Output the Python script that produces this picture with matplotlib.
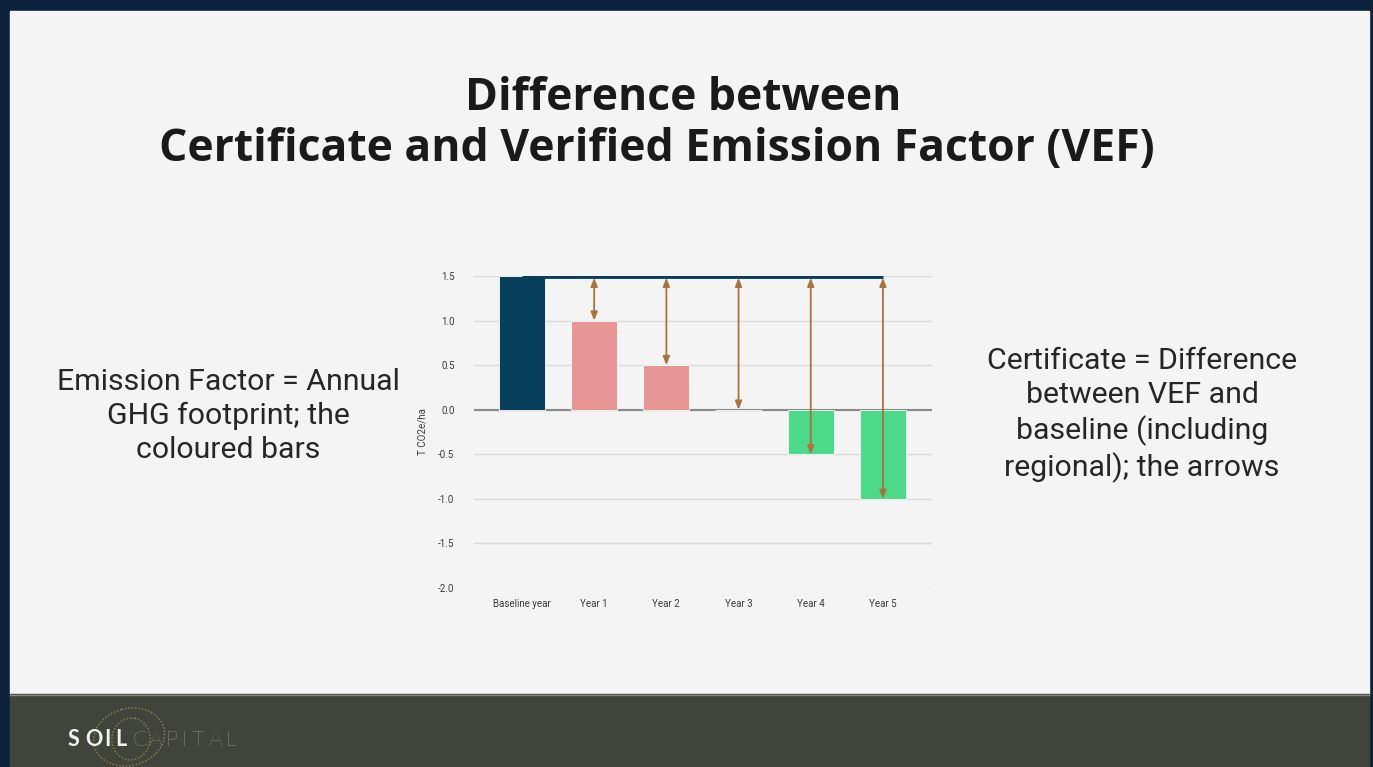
import numpy as np
import matplotlib.pyplot as plt
from matplotlib.patches import Rectangle, Ellipse

plt.rcParams['font.family'] = ['Roboto', 'DejaVu Sans']

categories = ['Baseline year', 'Year 1', 'Year 2', 'Year 3', 'Year 4', 'Year 5']
emission = [1.5, 1.0, 0.5, 0.0, -0.5, -1.0]
baseline = 1.5
yticks = [-2.0, -1.5, -1.0, -0.5, 0.0, 0.5, 1.0, 1.5]

NAVY = '#073f5c'
PINK = '#e89596'
GREEN = '#4cd98a'
ARROW = '#a8733f'

W, H = 1373, 767
fig = plt.figure(figsize=(W / 100, H / 100), dpi=100)
fig.patch.set_facecolor('#0c223c')

# slide background and footer
bg = fig.add_axes([0, 0, 1, 1])
bg.set_xlim(0, W)
bg.set_ylim(H, 0)
bg.axis('off')
bg.add_patch(Rectangle((10, 11), 1359, 683, color='#f4f4f4', zorder=0))
bg.add_patch(Rectangle((10, 694), 1359, 73, color='#40443a', zorder=0))
bg.plot([10, 1369], [694.5, 694.5], color='#8a8c84', lw=1.0, zorder=1)

bg.text(683, 99, 'Difference between', ha='center', va='center',
        fontsize=32, fontweight='bold', family='Open Sans', color='#1a1a1a')
bg.text(657, 149, 'Certificate and Verified Emission Factor (VEF)', ha='center', va='center',
        fontsize=32, fontweight='bold', family='Open Sans', color='#1a1a1a')

bg.text(228, 416, 'Emission Factor = Annual\nGHG footprint; the\ncoloured bars',
        ha='center', va='center', fontsize=21.8, color='#262626', linespacing=1.28)
bg.text(1142, 415, 'Certificate = Difference\nbetween VEF and\nbaseline (including\nregional); the arrows',
        ha='center', va='center', fontsize=21.8, color='#262626', linespacing=1.28)

# logo
bg.add_patch(Ellipse((129, 737), 72, 57, angle=-15, fill=False, ls=(0, (1, 1.2)),
                     lw=1.1, color='#8b7a55', zorder=2))
bg.add_patch(Ellipse((131, 739), 38, 42, angle=10, fill=False, ls=(0, (1, 1.2)),
                     lw=1.1, color='#8b7a55', zorder=2))
x = 68
for ch, adv in zip('SOIL', [17, 19, 11, 15]):
    bg.text(x, 740, ch, ha='left', va='center', fontsize=15.5, fontweight='bold',
            color='#f2f2f2', family='Lato', zorder=3)
    x += adv
x = 132
for ch, adv in zip('CAPITAL', [17, 17, 16, 10, 17, 17, 12]):
    bg.text(x, 740, ch, ha='left', va='center', fontsize=15.5, fontweight='light',
            color='#d4d4d0', family='Lato', zorder=3)
    x += adv

# chart
ax = fig.add_axes([474 / W, 1 - 588 / H, (932 - 474) / W, (588 - 276) / H])
ax.set_facecolor('#f4f4f4')
xpos = np.arange(len(categories))
colors = [NAVY] + [PINK if v > 0 else GREEN for v in emission[1:]]
ax.bar(xpos, emission, width=0.64, color=colors, edgecolor='white', linewidth=0.6, zorder=3)
ax.plot([xpos[0], xpos[-1]], [baseline, baseline], color=NAVY, lw=3.5, zorder=4,
        solid_capstyle='butt')

for xi, v in zip(xpos[1:], emission[1:]):
    ax.annotate('', xy=(xi, v), xytext=(xi, baseline - 0.02),
                arrowprops=dict(arrowstyle='<|-|>,head_length=0.5,head_width=0.2',
                                color=ARROW, lw=1.3, shrinkA=0, shrinkB=0), zorder=5)

ax.set_xlim(-0.665, 5.68)
ax.set_ylim(-2.0, 1.5)
ax.set_yticks(yticks)
ax.set_yticklabels([f'{t:.1f}' for t in yticks])
ax.set_xticks(xpos)
ax.set_xticklabels(categories)
ax.tick_params(length=0, labelsize=7, colors='#3a3a3a', pad=8)
ax.tick_params(axis='y', pad=14)
ax.grid(axis='y', color='#dadada', lw=1, zorder=0)
ax.axhline(0, color='#8a8a8a', lw=1.5, zorder=2)
for s in ax.spines.values():
    s.set_visible(False)
ax.set_ylabel('T CO2e/ha', fontsize=7, color='#3a3a3a', labelpad=8)

plt.savefig('out.png', dpi=100, facecolor=fig.get_facecolor())
